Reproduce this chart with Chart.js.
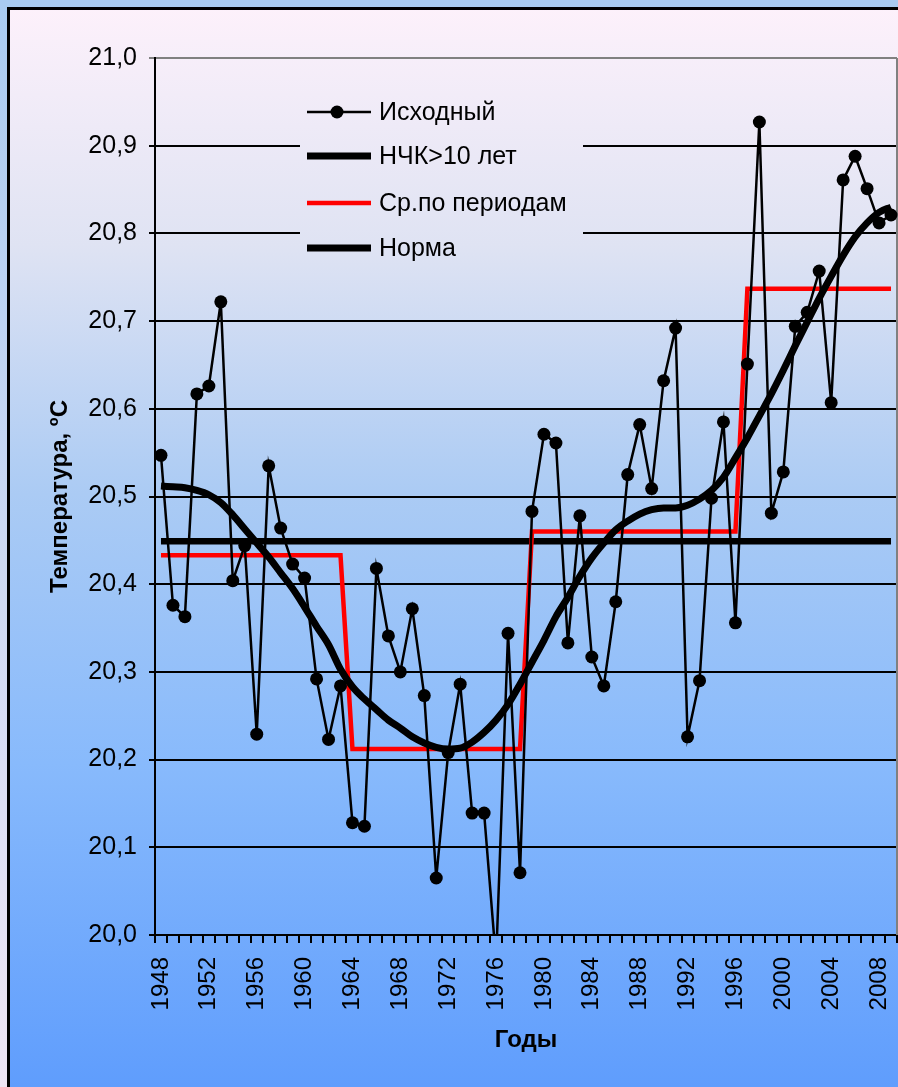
<!DOCTYPE html>
<html>
<head>
<meta charset="utf-8">
<title>Температура</title>
<script src="https://cdn.jsdelivr.net/npm/chart.js@4/dist/chart.umd.min.js"></script>
<style>
    html, body { margin: 0; padding: 0; background: #aacbf0; overflow: hidden; }
    canvas { display: block; }
</style>
</head>
<body>
<canvas id="GraficoTemperatura" width="898" height="1087"></canvas>
<script>
// valores
var anos = ['1948', '1949', '1950', '1951', '1952', '1953', '1954', '1955', '1956', '1957',
    '1958', '1959', '1960', '1961', '1962', '1963', '1964', '1965', '1966', '1967',
    '1968', '1969', '1970', '1971', '1972', '1973', '1974', '1975', '1976', '1977',
    '1978', '1979', '1980', '1981', '1982', '1983', '1984', '1985', '1986', '1987',
    '1988', '1989', '1990', '1991', '1992', '1993', '1994', '1995', '1996', '1997',
    '1998', '1999', '2000', '2001', '2002', '2003', '2004', '2005', '2006', '2007',
    '2008', '2009'];

var rotulosAnos = ['1948', '1952', '1956', '1960', '1964', '1968', '1972', '1976',
    '1980', '1984', '1988', '1992', '1996', '2000', '2004', '2008'];

var ishodny = [20.547, 20.376, 20.363, 20.617, 20.626, 20.722, 20.404, 20.444, 20.229, 20.535,
    20.464, 20.423, 20.407, 20.292, 20.223, 20.284, 20.128, 20.124, 20.418, 20.341,
    20.300, 20.372, 20.273, 20.065, 20.208, 20.286, 20.139, 20.139, 19.970, 20.344,
    20.071, 20.483, 20.571, 20.561, 20.333, 20.478, 20.317, 20.284, 20.380, 20.525,
    20.582, 20.509, 20.632, 20.692, 20.226, 20.290, 20.498, 20.585, 20.356, 20.651,
    20.927, 20.481, 20.528, 20.694, 20.710, 20.757, 20.607, 20.861, 20.888, 20.851,
    20.812, 20.821];

var nchk = [20.512, 20.511, 20.510, 20.507, 20.502, 20.493, 20.479, 20.463, 20.447, 20.431,
    20.413, 20.395, 20.374, 20.352, 20.331, 20.303, 20.283, 20.269, 20.257, 20.245,
    20.236, 20.226, 20.219, 20.214, 20.212, 20.213, 20.220, 20.231, 20.245, 20.263,
    20.286, 20.311, 20.336, 20.363, 20.385, 20.409, 20.430, 20.447, 20.462, 20.472,
    20.480, 20.485, 20.487, 20.487, 20.490, 20.497, 20.507, 20.522, 20.544, 20.567,
    20.592, 20.617, 20.644, 20.672, 20.699, 20.726, 20.751, 20.775, 20.796, 20.812,
    20.824, 20.830];

var srPoPeriodam = [20.433, 20.433, 20.433, 20.433, 20.433, 20.433, 20.433, 20.433, 20.433, 20.433,
    20.433, 20.433, 20.433, 20.433, 20.433, 20.433, 20.212, 20.212, 20.212, 20.212,
    20.212, 20.212, 20.212, 20.212, 20.212, 20.212, 20.212, 20.212, 20.212, 20.212,
    20.212, 20.460, 20.460, 20.460, 20.460, 20.460, 20.460, 20.460, 20.460, 20.460,
    20.460, 20.460, 20.460, 20.460, 20.460, 20.460, 20.460, 20.460, 20.460, 20.737,
    20.737, 20.737, 20.737, 20.737, 20.737, 20.737, 20.737, 20.737, 20.737, 20.737,
    20.737, 20.737];

var norma = 20.449;

var fonte = '"Liberation Sans", Arial, sans-serif';

// gradiente de fundo (claro em cima, azul embaixo)
function GradienteInterno(ctx) {
    var g = ctx.createLinearGradient(0, 8, 0, 1087);
    g.addColorStop(0, '#fdf1fb');
    g.addColorStop(0.22, '#dfe3f3');
    g.addColorStop(0.45, '#abcbf4');
    g.addColorStop(0.7, '#88bafc');
    g.addColorStop(1, '#5f9dfd');
    return g;
}

var pluginFundo = {
    id: 'fundo',
    beforeDraw: function (chart) {
        var ctx = chart.ctx;
        ctx.save();
        var gOut = ctx.createLinearGradient(0, 0, 0, 1087);
        gOut.addColorStop(0, '#a9cbf1');
        gOut.addColorStop(1, '#efe6f5');
        ctx.fillStyle = gOut;
        ctx.fillRect(0, 0, chart.width, chart.height);
        ctx.fillStyle = GradienteInterno(ctx);
        ctx.fillRect(8, 8, chart.width, chart.height);
        ctx.strokeStyle = '#000';
        ctx.lineWidth = 3;
        ctx.strokeRect(8.5, 8.5, chart.width + 20, chart.height + 20);
        ctx.restore();
    }
};

// legenda desenhada dentro da area do grafico
var pluginLegenda = {
    id: 'legendaInterna',
    beforeDatasetsDraw: function (chart) {
        var ctx = chart.ctx;
        var area = chart.chartArea;
        ctx.save();
        ctx.strokeStyle = '#808080';
        ctx.lineWidth = 2;
        ctx.beginPath();
        ctx.moveTo(area.right, area.top);
        ctx.lineTo(area.right, area.bottom);
        ctx.stroke();

        ctx.fillStyle = GradienteInterno(ctx);
        ctx.fillRect(300, 86, 283, 186);

        var itens = [
            { texto: 'Исходный', cor: '#000', largura: 2.5, ponto: true, y: 112 },
            { texto: 'НЧК>10 лет', cor: '#000', largura: 7, ponto: false, y: 156 },
            { texto: 'Ср.по периодам', cor: '#ff0000', largura: 4.5, ponto: false, y: 203 },
            { texto: 'Норма', cor: '#000', largura: 7, ponto: false, y: 248 }
        ];
        ctx.font = '25px ' + fonte;
        ctx.textBaseline = 'middle';
        ctx.textAlign = 'left';
        itens.forEach(function (item) {
            ctx.strokeStyle = item.cor;
            ctx.lineWidth = item.largura;
            ctx.beginPath();
            ctx.moveTo(307, item.y);
            ctx.lineTo(371, item.y);
            ctx.stroke();
            if (item.ponto) {
                ctx.fillStyle = '#000';
                ctx.beginPath();
                ctx.arc(337, item.y, 6.5, 0, Math.PI * 2);
                ctx.fill();
            }
            ctx.fillStyle = '#000';
            ctx.fillText(item.texto, 379, item.y + 1);
        });
        ctx.restore();
    }
};

var ctx = document.getElementById('GraficoTemperatura').getContext('2d');

var grafico = new Chart(ctx, {
    type: 'line',
    data: {
        labels: anos,
        datasets: [
            {
                label: 'Исходный',
                data: ishodny,
                borderColor: '#000',
                backgroundColor: '#000',
                borderWidth: 2.5,
                pointRadius: 6.5,
                pointBorderWidth: 0,
                pointBackgroundColor: '#000',
                tension: 0
            },
            {
                label: 'НЧК>10 лет',
                data: nchk,
                borderColor: '#000',
                borderWidth: 7,
                pointRadius: 0,
                cubicInterpolationMode: 'monotone'
            },
            {
                label: 'Ср.по периодам',
                data: srPoPeriodam,
                borderColor: '#ff0000',
                borderWidth: 4.5,
                pointRadius: 0,
                tension: 0
            },
            {
                label: 'Норма',
                data: [{ x: anos[0], y: norma }, { x: anos[anos.length - 1], y: norma }],
                borderColor: '#000',
                borderWidth: 6.5,
                pointRadius: 0
            }
        ]
    },
    options: {
        responsive: false,
        animation: false,
        devicePixelRatio: 1,
        layout: { autoPadding: false, padding: { top: 58, right: 1, left: 0, bottom: 0 } },
        plugins: {
            legend: { display: false },
            tooltip: { enabled: false }
        },
        scales: {
            x: {
                type: 'category',
                offset: true,
                grid: {
                    drawOnChartArea: false,
                    drawTicks: true,
                    tickLength: 8,
                    color: '#000',
                    lineWidth: 2,
                    offset: true
                },
                border: { color: '#000', width: 2 },
                ticks: {
                    autoSkip: false,
                    maxRotation: 90,
                    minRotation: 90,
                    padding: 14,
                    color: '#000',
                    font: { family: fonte, size: 24 },
                    callback: function (valor, indice) {
                        var ano = anos[indice];
                        return rotulosAnos.indexOf(ano) >= 0 ? ano : '';
                    }
                },
                title: {
                    display: true,
                    text: 'Годы',
                    color: '#000',
                    font: { family: fonte, size: 24, weight: 'bold' },
                    padding: { top: 0, bottom: 32 }
                },
                afterFit: function (escala) {
                    escala.height = 152;
                    escala.paddingLeft = 0;
                    escala.paddingRight = 0;
                }
            },
            y: {
                min: 20,
                max: 21,
                ticks: {
                    stepSize: 0.1,
                    padding: 12,
                    color: '#000',
                    font: { family: fonte, size: 25 },
                    callback: function (valor) {
                        return valor.toFixed(1).replace('.', ',');
                    }
                },
                grid: {
                    color: function (c) {
                        return (c.tick && Math.abs(c.tick.value - 21) < 1e-6) ? '#808080' : '#000';
                    },
                    lineWidth: 2,
                    tickLength: 6
                },
                border: { color: '#000', width: 2 },
                title: {
                    display: true,
                    text: 'Температура, ºC',
                    color: '#000',
                    font: { family: fonte, size: 24, weight: 'bold' },
                    padding: { top: 46, bottom: 0 }
                },
                afterFit: function (escala) {
                    escala.width = 155;
                    escala.paddingTop = 0;
                    escala.paddingBottom = 0;
                }
            }
        }
    },
    plugins: [pluginFundo, pluginLegenda]
});
</script>
</body>
</html>
